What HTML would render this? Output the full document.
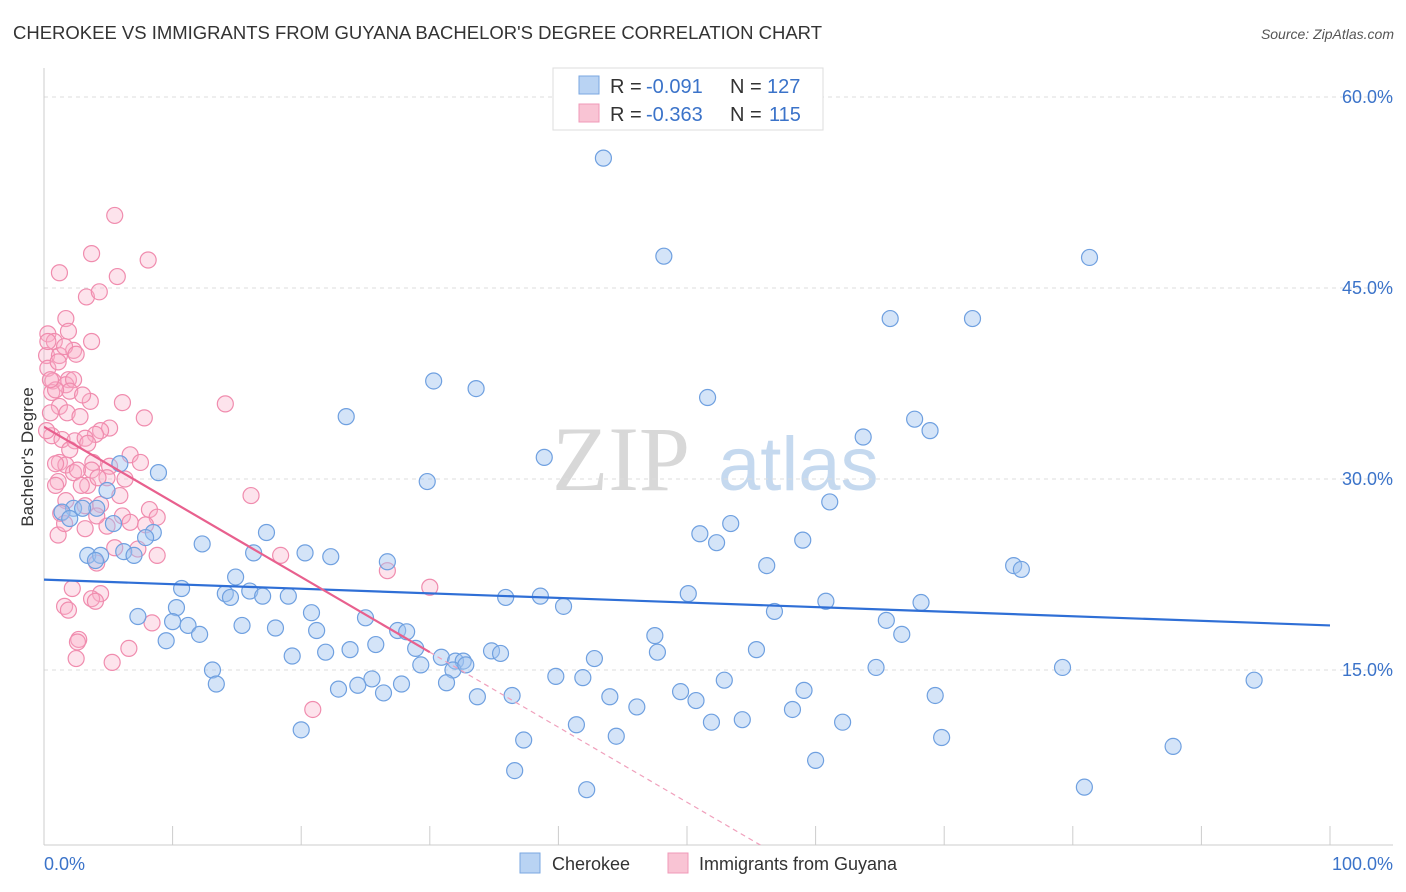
<!DOCTYPE html>
<html><head><meta charset="utf-8"><style>
body{margin:0;background:#fff;font-family:"Liberation Sans",sans-serif;}
#wrap{position:relative;width:1406px;height:892px;overflow:hidden;}
</style></head><body>
<div id="wrap">
<svg id="svg" width="1406" height="892" xmlns="http://www.w3.org/2000/svg">
<text x="13" y="39" font-size="18" fill="#333" textLength="809" lengthAdjust="spacingAndGlyphs">CHEROKEE VS IMMIGRANTS FROM GUYANA BACHELOR'S DEGREE CORRELATION CHART</text>
<text x="1394" y="39" font-size="14" fill="#555" font-style="italic" text-anchor="end">Source: ZipAtlas.com</text>
<text x="33" y="457" font-size="17" fill="#333" text-anchor="middle" transform="rotate(-90 33 457)">Bachelor's Degree</text>
<g><text x="552" y="490" font-size="92" font-family="Liberation Serif,serif" fill="#d8d8d8">ZIP</text><text x="718" y="490" font-size="76" fill="#c5d9ef">atlas</text></g>
<defs><clipPath id="plotclip"><rect x="44" y="60" width="1350" height="785"/></clipPath></defs>
<g id="grid"></g><g id="axes"></g><g id="pinkpts"></g><g id="bluepts"></g><g id="trends" clip-path="url(#plotclip)"></g>
<g>
<rect x="553" y="68" width="270" height="62" fill="#fff" stroke="#ddd"/>
<rect x="579" y="76" width="20" height="18" fill="#b9d3f3" stroke="#7aa7e0"/>
<rect x="579" y="104" width="20" height="18" fill="#f9c4d4" stroke="#f09ab8"/>
<g font-size="20">
<text x="610" y="93" fill="#333">R =</text><text x="646" y="93" fill="#3b73c9">-0.091</text><text x="730" y="93" fill="#333">N =</text><text x="767" y="93" fill="#3b73c9">127</text></g>
<g font-size="20">
<text x="610" y="121" fill="#333">R =</text><text x="646" y="121" fill="#3b73c9">-0.363</text><text x="730" y="121" fill="#333">N =</text><text x="769" y="121" fill="#3b73c9">115</text></g>
</g>
<g>
<rect x="520" y="853" width="20" height="20" fill="#b9d3f3" stroke="#7aa7e0"/>
<text x="552" y="870" font-size="18" fill="#333">Cherokee</text>
<rect x="668" y="853" width="20" height="20" fill="#f9c4d4" stroke="#f09ab8"/>
<text x="699" y="870" font-size="18" fill="#333">Immigrants from Guyana</text>
</g>
<text x="44" y="870" font-size="18" fill="#3b73c9">0.0%</text>
<text x="1393" y="870" font-size="18" fill="#3b73c9" text-anchor="end">100.0%</text>
</svg>
</div>
<script>
const yTicks=[15,30,45,60];
const xTickVals=[0,10,20,30,40,50,60,70,80,90,100];
const blueX=[43.5,48.2,81.3,65.8,72.2,30.3,33.6,51.6,23.5,67.7,68.9,63.7,38.9,8.9,29.8,5.9,61.1,4.9,53.4,51.0,52.3,59.0,17.3,8.5,7.9,12.3,4.1,2.3,1.4,3.0,2.0,5.4,56.2,75.4,76.0,16.3,20.3,22.3,26.7,6.2,7.0,3.4,4.4,14.9,10.7,14.1,14.5,16.0,17.0,19.0,35.9,38.6,40.4,50.1,60.8,68.2,56.8,7.3,10.3,20.8,10.0,11.2,25.0,15.4,18.0,21.2,27.5,28.2,12.1,47.5,65.5,66.7,9.5,25.8,23.8,28.9,21.9,19.3,30.9,32.0,32.6,34.8,35.5,47.7,55.4,42.8,13.1,29.3,31.8,64.7,79.2,25.5,39.8,41.9,52.9,13.4,22.9,24.4,26.4,27.8,31.3,33.7,36.4,44.0,46.1,49.5,50.7,59.1,69.3,94.1,58.2,62.1,51.9,54.3,41.4,20.0,44.5,37.3,69.8,87.8,60.0,36.6,42.2,80.9,32.8,4.0];
const blueY=[55.2,47.5,47.4,42.6,42.6,37.7,37.1,36.4,34.9,34.7,33.8,33.3,31.7,30.5,29.8,31.2,28.2,29.1,26.5,25.7,25.0,25.2,25.8,25.8,25.4,24.9,27.7,27.7,27.4,27.7,26.9,26.5,23.2,23.2,22.9,24.2,24.2,23.9,23.5,24.3,24.0,24.0,24.0,22.3,21.4,21.0,20.7,21.2,20.8,20.8,20.7,20.8,20.0,21.0,20.4,20.3,19.6,19.2,19.9,19.5,18.8,18.5,19.1,18.5,18.3,18.1,18.1,18.0,17.8,17.7,18.9,17.8,17.3,17.0,16.6,16.7,16.4,16.1,16.0,15.7,15.7,16.5,16.3,16.4,16.6,15.9,15.0,15.4,15.0,15.2,15.2,14.3,14.5,14.4,14.2,13.9,13.5,13.8,13.2,13.9,14.0,12.9,13.0,12.9,12.1,13.3,12.6,13.4,13.0,14.2,11.9,10.9,10.9,11.1,10.7,10.3,9.8,9.5,9.7,9.0,7.9,7.1,5.6,5.8,15.4,23.6];
const pinkX=[5.5,3.7,8.1,1.2,5.7,3.3,4.3,1.7,0.3,0.8,1.9,3.7,2.3,0.2,1.2,0.3,1.6,2.5,1.1,1.9,0.7,1.7,2.3,0.6,2.0,6.1,14.1,3.6,1.2,0.5,1.8,2.8,7.8,5.1,4.4,4.0,0.6,1.4,2.4,3.2,3.4,6.7,1.2,1.7,3.8,7.5,5.1,0.9,3.7,2.3,4.9,1.1,3.4,2.9,6.3,4.2,5.9,1.7,3.2,16.1,8.2,6.1,8.8,1.3,6.7,4.9,7.9,3.2,1.1,7.3,8.8,4.1,18.4,26.7,30.0,2.2,4.4,3.7,4.0,1.6,1.9,8.4,2.7,2.6,6.6,2.5,5.3,20.9,0.9,0.5,0.2,3.0,2.0,4.4,1.6,5.5,0.9,4.1,0.3,2.6];
const pinkY=[50.7,47.7,47.2,46.2,45.9,44.3,44.7,42.6,41.4,40.8,41.6,40.8,40.1,39.7,39.7,38.7,40.4,39.8,39.2,37.8,37.7,37.4,37.8,36.8,36.9,36.0,35.9,36.1,35.7,35.2,35.2,34.9,34.8,34.0,33.8,33.5,33.4,33.1,33.0,33.2,32.8,31.9,31.3,31.1,31.3,31.3,31.0,31.2,30.7,30.5,30.1,29.8,29.5,29.5,30.0,30.1,28.7,28.3,27.9,28.7,27.6,27.1,27.0,27.3,26.6,26.3,26.4,26.1,25.6,24.5,24.0,23.4,24.0,22.8,21.5,21.4,21.0,20.6,20.4,20.0,19.7,18.7,17.4,17.2,16.7,15.9,15.6,11.9,37.0,37.8,33.8,36.6,32.3,28.0,26.5,24.6,29.5,27.1,40.8,30.7];
const blueTrendX=[0,100], blueTrendY=[22.1,18.5];
const pinkTrendX=[0,30,58], pinkTrendY=[34.1,16.4,-0.1];

const NS="http://www.w3.org/2000/svg";
const X=v=>44+v*12.86, Y=v=>861-v*12.733;
function mk(tag,attrs,parent){const e=document.createElementNS(NS,tag);for(const k in attrs)e.setAttribute(k,attrs[k]);document.getElementById(parent).appendChild(e);return e;}
yTicks.forEach(t=>{
  const l=mk('line',{x1:44,x2:1393,y1:Y(t),y2:Y(t),stroke:'#ddd','stroke-dasharray':'4,4'},'grid');
  
  
  const tx=mk('text',{x:1393,y:Y(t)+6,'font-size':18,fill:'#3b73c9','text-anchor':'end'},'grid');
  tx.textContent=t.toFixed(1)+'%';
  
  
});
let a=mk('line',{x1:44,x2:44,y1:68,y2:845,stroke:'#ccc'},'axes');


a=mk('line',{x1:44,x2:1393,y1:845,y2:845,stroke:'#ccc'},'axes');


xTickVals.forEach(t=>{const l=mk('line',{x1:X(t),x2:X(t),y1:826,y2:845,stroke:'#ccc'},'axes');
  
  });
pinkX.forEach((v,i)=>{const c=mk('circle',{cx:X(v),cy:Y(pinkY[i]),r:8,fill:'rgba(248,175,200,0.35)',stroke:'#f08cae','stroke-width':1.2},'pinkpts');
  
  });
blueX.forEach((v,i)=>{const c=mk('circle',{cx:X(v),cy:Y(blueY[i]),r:8,fill:'rgba(160,196,240,0.45)',stroke:'#6fa0e0','stroke-width':1.2},'bluepts');
  
  });
let t=mk('line',{x1:X(blueTrendX[0]),y1:Y(blueTrendY[0]),x2:X(blueTrendX[1]),y2:Y(blueTrendY[1]),stroke:'#2f6fd6','stroke-width':2.2},'trends');


t=mk('line',{x1:X(pinkTrendX[0]),y1:Y(pinkTrendY[0]),x2:X(pinkTrendX[1]),y2:Y(pinkTrendY[1]),stroke:'#e8608e','stroke-width':2.2},'trends');


t=mk('line',{x1:X(pinkTrendX[1]),y1:Y(pinkTrendY[1]),x2:X(pinkTrendX[2]),y2:Y(pinkTrendY[2]),stroke:'#f0a0bc','stroke-width':1.2,'stroke-dasharray':'5,4'},'trends');


</script>
</body></html>
